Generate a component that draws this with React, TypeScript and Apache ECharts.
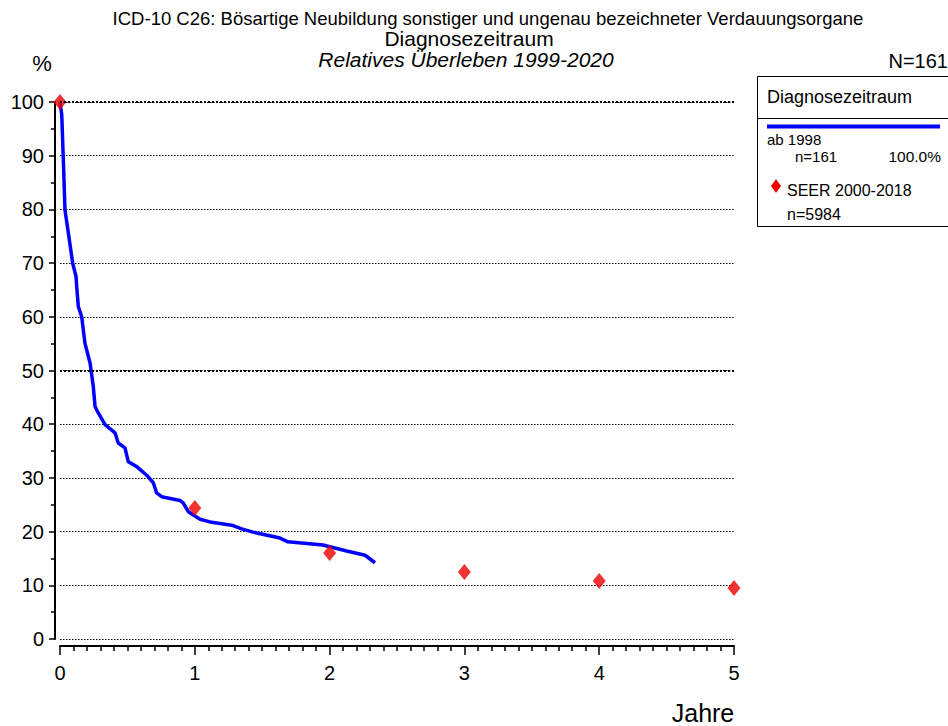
import React, { useEffect, useRef } from "react";
import * as echarts from "echarts";

const curveYears = [0, 0.013, 0.024, 0.037, 0.062, 0.094, 0.119, 0.124, 0.136, 0.161, 0.185, 0.223, 0.247, 0.26, 0.284, 0.334, 0.384, 0.408, 0.432, 0.482, 0.507, 0.569, 0.643, 0.692, 0.717, 0.754, 0.89, 0.915, 0.952, 0.989, 1.039, 1.113, 1.274, 1.348, 1.432, 1.632, 1.691, 1.951, 2.127, 2.263, 2.337];
const curveSurvival = [100, 97.6, 89.8, 79.9, 75.6, 70.0, 67.5, 65.6, 61.9, 60.0, 55.1, 51.4, 47.0, 43.3, 42.1, 39.9, 38.9, 38.4, 36.5, 35.6, 33.0, 32.1, 30.5, 29.1, 27.2, 26.5, 25.8, 25.3, 23.7, 23.1, 22.3, 21.8, 21.2, 20.5, 19.9, 18.8, 18.1, 17.5, 16.4, 15.6, 14.2];
const seerYears = [0, 1, 2, 3, 4, 5];
const seerSurvival = [100, 24.4, 16.0, 12.5, 10.8, 9.5];
const boldGridValues = [50, 100];

const titleLines = [
  "ICD-10 C26: Bösartige Neubildung sonstiger und ungenau bezeichneter Verdauungsorgane",
  "Diagnosezeitraum",
  "Relatives Überleben 1999-2020",
];
const legendTitle = "Diagnosezeitraum";
const curveLabel = "ab 1998";
const curveN = "n=161";
const curvePct = "100.0%";
const seerLabel = "SEER 2000-2018";
const seerN = "n=5984";
const totalN = "N=161";

const FONT = "Liberation Sans, Arial, sans-serif";

export default function App() {
  const ref = useRef<HTMLDivElement>(null);
  useEffect(() => {
    if (!ref.current) return;
    const chart = echarts.init(ref.current, null, { renderer: "svg" });
    const curve = curveYears.map((x, i) => [x, curveSurvival[i]]);
    const seer = seerYears.map((x, i) => [x, seerSurvival[i]]);
    chart.setOption({
      animation: false,
      backgroundColor: "#fff",
      textStyle: { fontFamily: FONT },
      grid: { left: 60, right: 214, top: 102, bottom: 87 },
      xAxis: {
        type: "value",
        min: 0,
        max: 5,
        interval: 1,
        offset: 7,
        axisLine: { show: true, onZero: false, lineStyle: { color: "#000", width: 2 } },
        axisTick: { show: true, length: 9, lineStyle: { color: "#000", width: 1.5 } },
        minorTick: { show: true, splitNumber: 10, length: 5, lineStyle: { color: "#000", width: 1.5 } },
        axisLabel: { color: "#000", fontSize: 20, margin: 17, fontFamily: FONT },
        splitLine: { show: false },
      },
      yAxis: {
        type: "value",
        min: 0,
        max: 100,
        interval: 10,
        offset: 5,
        axisLine: { show: true, onZero: false, lineStyle: { color: "#000", width: 2 } },
        axisTick: { show: true, length: 6, lineStyle: { color: "#000", width: 1.5 } },
        minorTick: { show: true, splitNumber: 2, length: 4, lineStyle: { color: "#000", width: 1.5 } },
        axisLabel: { color: "#000", fontSize: 20, margin: 11, fontFamily: FONT },
        splitLine: { show: true, lineStyle: { color: "#000", type: [1.5, 1.5], width: 1 } },
      },
      series: [
        {
          type: "line",
          data: curve,
          showSymbol: false,
          symbol: "none",
          lineStyle: { color: "#0000ff", width: 3.5 },
          z: 3,
          markLine: {
            silent: true,
            symbol: "none",
            label: { show: false },
            lineStyle: { color: "#000", type: [2, 2], width: 2.2 },
            data: boldGridValues.map((v) => ({ yAxis: v })),
          },
        },
        {
          type: "scatter",
          data: seer,
          symbol: "diamond",
          symbolSize: [13, 16],
          itemStyle: { color: "#ee0000" },
          z: 4,
        },
      ],
      graphic: [
        { type: "text", x: 488, y: 18, style: { text: titleLines[0], font: `18.5px ${FONT}`, fill: "#000", textAlign: "center", textVerticalAlign: "middle" } },
        { type: "text", x: 469, y: 38, style: { text: titleLines[1], font: `21px ${FONT}`, fill: "#000", textAlign: "center", textVerticalAlign: "middle" } },
        { type: "text", x: 466, y: 59, style: { text: titleLines[2], font: `italic 21px ${FONT}`, fill: "#000", textAlign: "center", textVerticalAlign: "middle" } },
        { type: "text", x: 42, y: 63, style: { text: "%", font: `22px ${FONT}`, fill: "#000", textAlign: "center", textVerticalAlign: "middle" } },
        { type: "text", x: 948, y: 61, style: { text: totalN, font: `20px ${FONT}`, fill: "#000", textAlign: "right", textVerticalAlign: "middle" } },
        { type: "text", x: 703, y: 713, style: { text: "Jahre", font: `25px ${FONT}`, fill: "#000", textAlign: "center", textVerticalAlign: "middle" } },
        { type: "rect", shape: { x: 757.5, y: 76.5, width: 200, height: 150 }, style: { fill: "none", stroke: "#000", lineWidth: 1 } },
        { type: "line", shape: { x1: 757, y1: 118.5, x2: 948, y2: 118.5 }, style: { stroke: "#000", lineWidth: 1 } },
        { type: "text", x: 767, y: 97, style: { text: legendTitle, font: `18px ${FONT}`, fill: "#000", textVerticalAlign: "middle" } },
        { type: "line", shape: { x1: 767, y1: 126.5, x2: 940, y2: 126.5 }, style: { stroke: "#0000ff", lineWidth: 4 } },
        { type: "text", x: 767, y: 139, style: { text: curveLabel, font: `15px ${FONT}`, fill: "#000", textVerticalAlign: "middle" } },
        { type: "text", x: 795, y: 156.5, style: { text: curveN, font: `15px ${FONT}`, fill: "#000", textVerticalAlign: "middle" } },
        { type: "text", x: 941, y: 156.5, style: { text: curvePct, font: `15.5px ${FONT}`, fill: "#000", textAlign: "right", textVerticalAlign: "middle" } },
        { type: "polygon", shape: { points: [[776, 179], [781, 186], [776, 193], [771, 186]] }, style: { fill: "#ee0000" } },
        { type: "text", x: 787, y: 190, style: { text: seerLabel, font: `16px ${FONT}`, fill: "#000", textVerticalAlign: "middle" } },
        { type: "text", x: 787, y: 214, style: { text: seerN, font: `16px ${FONT}`, fill: "#000", textVerticalAlign: "middle" } },
      ],
    });
    return () => chart.dispose();
  }, []);
  return <div ref={ref} style={{ width: 948, height: 726, position: "absolute", left: 0, top: 0 }} />;
}
